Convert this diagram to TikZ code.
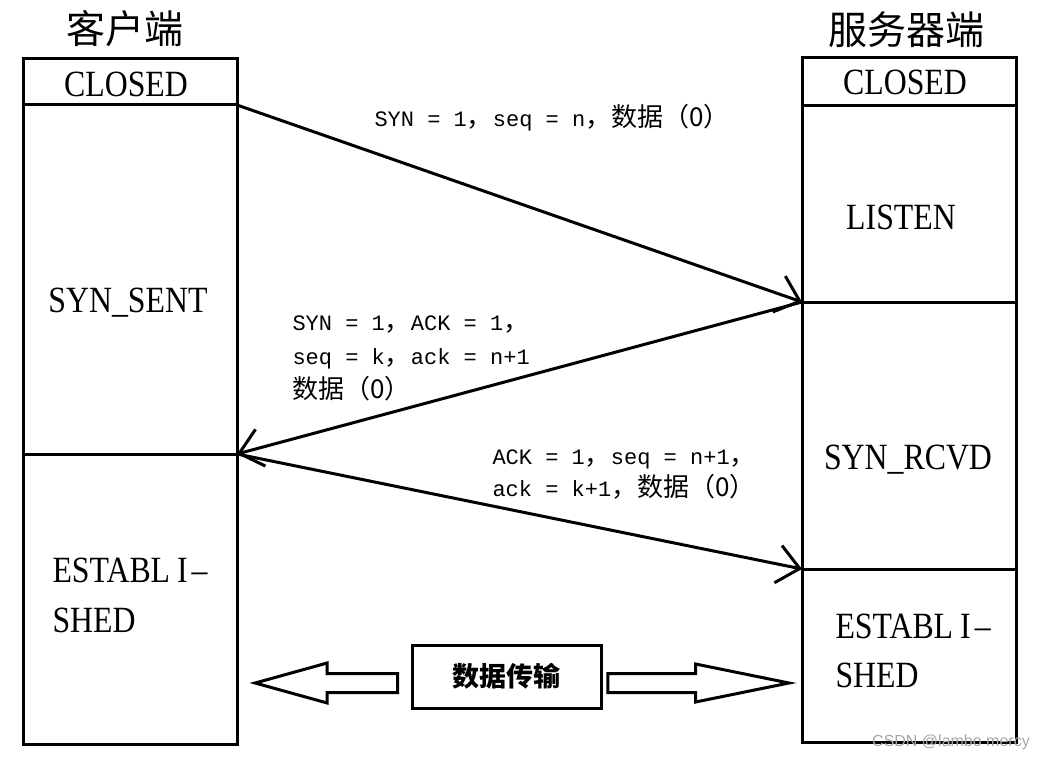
\documentclass[tikz,border=0pt]{standalone}
\usepackage{fontspec}
\setmainfont{Liberation Serif}
\newfontfamily\cjkfont{Noto Sans CJK SC}
\newfontfamily\statefont[FakeStretch=0.86]{Liberation Serif}
\newfontfamily\lblfont{Liberation Mono}
\newfontfamily\wmfont{Liberation Sans}
\usetikzlibrary{arrows.meta, shapes.arrows}
\newcommand{\zh}[1]{{\cjkfont\fontsize{26}{\baselineskip}\selectfont #1}}

\begin{document}
\begin{tikzpicture}[
    x=1pt, y=-1pt,              % pixel-like coordinates, y pointing down
    line width=3pt,
    >={Straight Barb[length=22pt, width=38pt]},
    cell/.style={draw, rectangle, minimum width=214pt, inner sep=0pt, outer sep=0pt},
    statetxt/.style={font=\statefont\fontsize{37}{50}\selectfont, inner sep=0pt, text depth=0pt, align=left},
    msglab/.style={font=\lblfont\fontsize{22}{34}\selectfont, inner sep=0pt, text depth=0pt, align=left, anchor=west},
    side/.style={font=\cjkfont\fontsize{39}{44}\selectfont, inner sep=0pt},
    hollow/.style={draw, single arrow, single arrow head indent=0pt, inner xsep=0pt, inner ysep=8pt, anchor=tip},
]
\useasboundingbox (0,0) rectangle (1045,760);

% -------------------------------------------------
% Titles
% -------------------------------------------------
\node[side] (client) at (124.5,29) {客户端};
\node[side] (server) at (906.5,30) {服务器端};

% -------------------------------------------------
% Client column
% -------------------------------------------------
\node[cell, minimum height=46pt]  (cClosed) at (130,82)    {};
\node[cell, minimum height=349pt] (cSent)   at (130,279.5) {};
\node[cell, minimum height=290pt] (cEst)    at (130,599)   {};

\node[statetxt] (tcClosed) at (126,84.5) {CLOSED};
\node[statetxt] (tcSent)   at (128,300)  {SYN\_SENT};
\node[statetxt, anchor=west] (tcEst) at (51,595) {ESTABL\kern7pt I\kern4pt–\\SHED};

% -------------------------------------------------
% Server column
% -------------------------------------------------
\node[cell, minimum height=48pt]  (sClosed) at (909,82)    {};
\node[cell, minimum height=196pt] (sListen) at (909,204)   {};
\node[cell, minimum height=267pt] (sRcvd)   at (909,435.5) {};
\node[cell, minimum height=173pt] (sEst)    at (909,655.5) {};

\node[statetxt] (tsClosed) at (905,82)  {CLOSED};
\node[statetxt] (tsListen) at (901,217) {LISTEN};
\node[statetxt] (tsRcvd)   at (908,457) {SYN\_RCVD};
\node[statetxt, anchor=west, font=\statefont\fontsize{37}{49}\selectfont] (tsEst) at (834,651) {ESTABL\kern7pt I\kern4pt–\\SHED};

% -------------------------------------------------
% Handshake messages
% -------------------------------------------------
\draw[->] (cClosed.south east) -- (sListen.south west);
\draw[->] (sRcvd.north west) -- (cSent.south east);
\draw[->] (cEst.north east) -- (sEst.north west);

\node[msglab] (msg1) at (373,115) {SYN = 1\zh{，}seq = n\zh{，}\zh{数据（0）}};
\node[msglab] (msg2) at (291,357.5) {SYN = 1\zh{，}ACK = 1\zh{，}\\seq = k\zh{，}ack = n+1\\\zh{数据（0）}};
\node[msglab, font=\lblfont\fontsize{22}{32}\selectfont] (msg3) at (491,473.5) {ACK = 1\zh{，}seq = n+1\zh{，}\\ack = k+1\zh{，}\zh{数据（0）}};

% -------------------------------------------------
% Data transfer
% -------------------------------------------------
\node[draw, minimum width=189pt, minimum height=63pt, inner sep=0pt,
      font=\cjkfont\bfseries\fontsize{27}{30}\selectfont] (xfer) at (506.5,676.5) {数据传输};

\node[hollow, shape border rotate=180, minimum height=142.5pt,
      single arrow head extend=10.5pt, single arrow tip angle=31] (toClient) at (249.5,683) {};
\node[hollow, minimum height=181pt,
      single arrow head extend=9.5pt, single arrow tip angle=23] (toServer) at (796.5,683) {};

\node[font=\wmfont\fontsize{16}{18}\selectfont, text=gray!70, inner sep=0pt] (mark) at (951,742) {CSDN @lambo mercy};

\end{tikzpicture}
\end{document}
